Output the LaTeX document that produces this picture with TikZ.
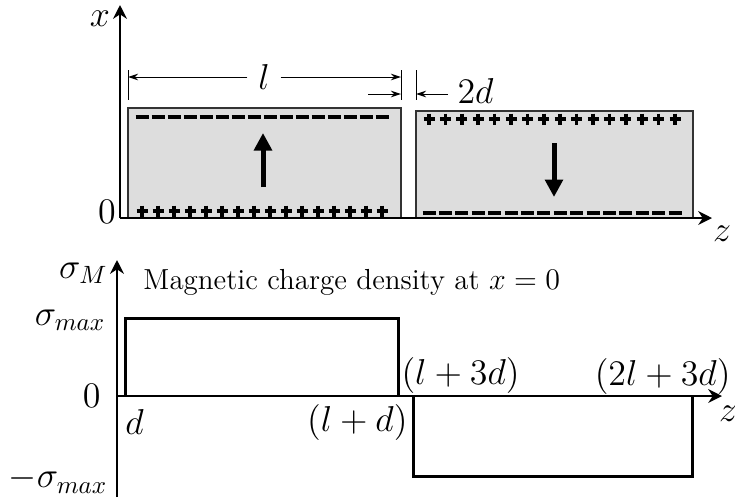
\documentclass[tikz,border=0pt]{standalone}
\usepackage{amsmath,amssymb}
\usepackage{xcolor}
\usepackage{tikz}
\usetikzlibrary{arrows.meta,positioning,calc}
\definecolor{magnetgrey}{HTML}{DDDDDD}
\definecolor{edgegrey}{HTML}{333333}

\begin{document}
\begin{tikzpicture}[x=0.4pt,y=-0.4pt,
  axis/.style={line width=1pt,-{Stealth[length=5.5pt,width=5.5pt,inset=1.8pt]}},
  magnet/.style={draw=edgegrey,line width=0.6pt,fill=magnetgrey},
  dimline/.style={line width=0.4pt,-{Stealth[length=4pt,width=2.6pt]}},
  dimtick/.style={line width=0.4pt},
  magarrow/.style={line width=2pt,-{Triangle[length=7pt,width=7pt]}},
  charge/.style={line width=1.4pt},
  pulse/.style={line width=1.2pt},
  lbl/.style={font=\Large,inner sep=0pt},
  caption/.style={font=\fontsize{11.6}{14}\selectfont,inner sep=0pt}
]
\useasboundingbox (0,0) rectangle (735,502);
% magnets
\draw[magnet] (128,108) rectangle (401,218);
\draw[magnet] (416,111) rectangle (693,218);
\foreach \i in {0,...,15} {
  \pgfmathsetmacro\cx{142+16*\i}
  \draw[charge] (\cx-6.5,117) -- (\cx+6.5,117);
  \draw[charge] (\cx-5.5,211) -- (\cx+5.5,211) (\cx,205.5) -- (\cx,216.5);
  \pgfmathsetmacro\rx{429+16.4*\i}
  \draw[charge] (\rx-5.5,119) -- (\rx+5.5,119) (\rx,113.5) -- (\rx,124.5);
  \draw[charge] (\rx-6.5,213) -- (\rx+6.5,213);
}
\coordinate (upa) at (263,187);
\coordinate (upb) at (263,133);
\coordinate (dna) at (554,143);
\coordinate (dnb) at (554,197);
\draw[magarrow] (upa) -- (upb);
\draw[magarrow] (dna) -- (dnb);
% top axes
\coordinate (otop) at (120,218);
\coordinate (xtip) at (120,5);
\coordinate (ztip) at (712,218);
\draw[axis] (otop) -- (xtip);
\draw[axis] (otop) -- (ztip);
\node[lbl] (xlbl) at (100,19) {$x$};
\node[lbl] (zerotop) at (107,212) {$0$};
\node[lbl] (zlbl) at (722,234) {$z$};
% dimensions
\coordinate (tickl) at (128,70);
\coordinate (tickm) at (401,70);
\coordinate (tickr) at (416,70);
\draw[dimtick] (tickl) -- ++(0,30);
\draw[dimtick] (tickm) -- ++(0,30);
\draw[dimtick] (tickr) -- ++(0,30);
\node[lbl,inner sep=4.2pt] (llbl) at (264,77) {$l$};
\coordinate (lleft) at (128,77);
\coordinate (lright) at (401,77);
\draw[dimline] (llbl.west) -- (lleft);
\draw[dimline] (llbl.east) -- (lright);
\coordinate (gapa) at (368,94);
\coordinate (gapb) at (401,94);
\coordinate (gapc) at (448,94);
\coordinate (gapd) at (416,94);
\draw[dimline] (gapa) -- (gapb);
\draw[dimline] (gapc) -- (gapd);
\node[lbl,anchor=west] (dlbl) at (457,91) {$2d$};
% charge density plot
\coordinate (obot) at (117,396);
\coordinate (sbase) at (117,497);
\coordinate (stip) at (117,260);
\coordinate (ztipb) at (722,396);
\draw[axis] (sbase) -- (stip);
\draw[axis] (obot) -- (ztipb);
\draw[pulse] (125,396) -- (125,318) -- (398,318) -- (398,396);
\draw[pulse] (413,396) -- (413,476) -- (692,476) -- (692,396);
\node[lbl,anchor=east] (sigm) at (108,273) {$\sigma_M$};
\node[lbl,anchor=east] (smax) at (106,320) {$\sigma_{max}$};
\node[lbl,anchor=east] (zerobot) at (101,396) {$0$};
\node[lbl,anchor=east] (nsmax) at (108,480) {$-\sigma_{max}$};
\node[lbl,anchor=west] (dpos) at (125,422) {$d$};
\node[lbl,anchor=east] (lpd) at (408,422) {$(l+d)$};
\node[lbl,anchor=west] (lp3d) at (401,375) {$(l+3d)$};
\node[lbl,anchor=east] (tlp3d) at (731,376) {$(2l+3d)$};
\node[lbl] (zlblb) at (728,414) {$z$};
\node[caption,anchor=base west] (title) at (143,289) {Magnetic charge density at $x=0$};
\end{tikzpicture}
\end{document}
